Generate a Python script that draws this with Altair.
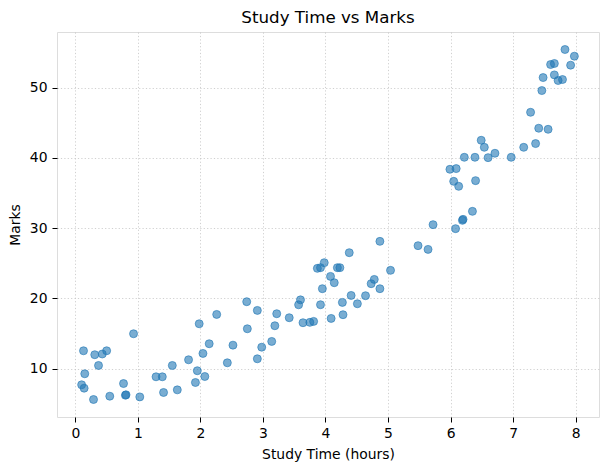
import altair as alt
import pandas as pd

# Study hours and resulting marks for each student
study_hours = [
    0.13, 0.31, 0.43, 0.50, 0.37, 0.15, 0.10, 0.14, 0.29, 0.55,
    0.77, 0.80, 0.81, 0.93, 1.03, 1.29, 1.39, 1.41, 1.55, 1.63,
    1.81, 1.95, 1.92, 2.07, 2.04, 2.14, 1.98, 2.43, 2.52, 2.26,
    2.74, 2.75, 2.91, 2.91, 2.98, 3.14, 3.19, 3.22, 3.42, 3.57,
    3.60, 3.64, 3.75, 3.81, 3.92, 3.95, 3.87, 3.92, 3.98, 4.08,
    4.14, 4.19, 4.23, 4.09, 4.28, 4.27, 4.38, 4.41, 4.51, 4.64,
    4.73, 4.78, 4.87, 4.87, 5.04, 5.48, 5.64, 5.72, 6.08, 6.19,
    6.20, 6.35, 6.05, 6.13, 6.40, 5.99, 6.09, 6.22, 6.39, 6.60,
    6.71, 6.49, 6.54, 6.97, 7.17, 7.36, 7.41, 7.56, 7.28, 7.46,
    7.48, 7.60, 7.66, 7.66, 7.72, 7.79, 7.83, 7.98, 7.92,
]
marks = [
    12.56, 12.00, 12.10, 12.56, 10.47, 9.29, 7.72, 7.24, 5.63, 6.10,
    7.90, 6.24, 6.30, 14.98, 6.00, 8.86, 8.86, 6.63, 10.47, 7.00,
    11.28, 9.72, 8.05, 8.90, 12.18, 13.56, 16.40, 10.85, 13.36, 17.73,
    19.54, 15.69, 18.30, 11.42, 13.07, 13.89, 16.12, 17.83, 17.26, 19.10,
    19.80, 16.55, 16.60, 16.74, 19.11, 21.39, 24.28, 24.38, 25.09, 23.14,
    22.24, 24.38, 24.38, 17.16, 17.69, 19.44, 26.51, 20.43, 19.25, 20.39,
    22.10, 22.71, 21.39, 28.12, 24.00, 27.51, 26.98, 30.50, 29.93, 31.11,
    31.25, 32.39, 36.66, 35.95, 36.76, 38.37, 38.47, 40.08, 40.08, 40.03,
    40.65, 42.50, 41.50, 40.08, 41.50, 42.03, 44.21, 44.06, 46.48, 49.57,
    51.42, 53.27, 53.42, 51.80, 51.00, 51.14, 55.41, 54.46, 53.18,
]

x_ticks = [0, 1, 2, 3, 4, 5, 6, 7, 8]
y_ticks = [10, 20, 30, 40, 50]

df = pd.DataFrame({"hours": study_hours, "marks": marks})


def padded(values, frac=0.05):
    lo, hi = min(values), max(values)
    pad = (hi - lo) * frac
    return [lo - pad, hi + pad]


FONT = "DejaVu Sans"

axis_common = dict(
    grid=True,
    gridColor="#bdbdbd",
    gridDash=[1.2, 2.2],
    gridWidth=0.9,
    gridOpacity=0.8,
    domain=False,
    tickColor="black",
    tickSize=5,
    tickWidth=1,
    labelColor="black",
    labelFont=FONT,
    labelFontSize=13.9,
    titleFont=FONT,
    titleFontSize=13.9,
    titleFontWeight="normal",
    titleColor="black",
)

chart = (
    alt.Chart(df)
    .mark_circle(
        size=64,
        color="#1f77b4",
        fillOpacity=0.6,
        stroke="#1f77b4",
        strokeOpacity=0.6,
        strokeWidth=1,
    )
    .encode(
        x=alt.X(
            "hours:Q",
            scale=alt.Scale(domain=padded(study_hours), nice=False, zero=False),
            axis=alt.Axis(
                values=x_ticks,
                format="d",
                title="Study Time (hours)",
                labelPadding=4,
                titlePadding=8,
                **axis_common,
            ),
        ),
        y=alt.Y(
            "marks:Q",
            scale=alt.Scale(domain=padded(marks), nice=False, zero=False),
            axis=alt.Axis(
                values=y_ticks,
                format="d",
                title="Marks",
                labelPadding=5,
                titlePadding=7,
                **axis_common,
            ),
        ),
    )
    .properties(
        width=542,
        height=385,
        title=alt.TitleParams(
            "Study Time vs Marks",
            font=FONT,
            fontSize=16.7,
            fontWeight="normal",
            color="black",
            anchor="middle",
            offset=5,
        ),
        autosize=alt.AutoSizeParams(type="none"),
        padding={"left": 57, "top": 32, "right": 10, "bottom": 53},
    )
    .configure_view(stroke="black", strokeWidth=1)
    .configure(background="white")
)

chart.save("out.html", embed_options={"renderer": "svg", "actions": False})
